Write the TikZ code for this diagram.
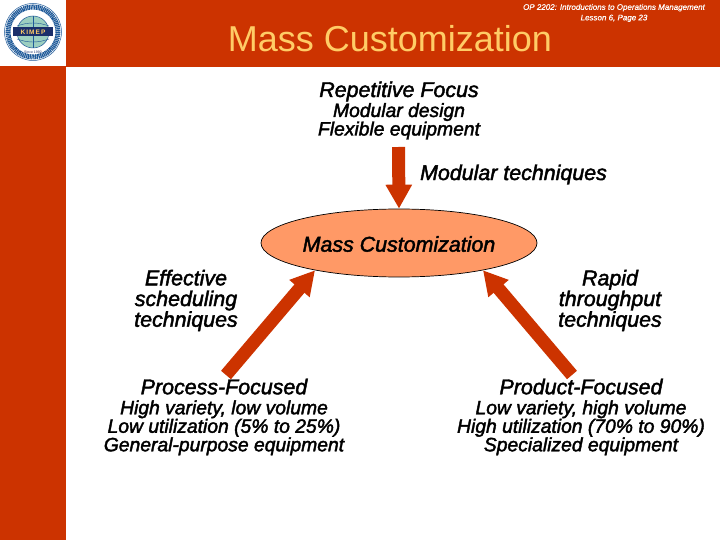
\documentclass[tikz,border=0pt]{standalone}
\usepackage{fontspec}
\setmainfont{Liberation Sans}
\newfontface\boldit{Liberation Sans Italic}[FakeBold=2]
\newfontface\lightit{Liberation Sans Italic}[FakeBold=0.6]
\newcommand{\headfont}{\boldit\fontsize{21.4}{20.7}\selectfont}
\usetikzlibrary{arrows.meta,shapes.geometric}
\definecolor{barred}{HTML}{CC3300}
\definecolor{titleyellow}{HTML}{FFCC66}
\definecolor{ellfill}{HTML}{FF9966}
\definecolor{logoblue}{HTML}{1F5A99}
\definecolor{logonavy}{HTML}{1A2F6B}
\definecolor{logoteal}{HTML}{9CCFC0}
\tikzset{
  big/.style={font=\headfont,text=black,inner sep=0pt,align=center},
  stack/.style={font=\boldit\fontsize{19.3}{18.5}\selectfont,text=black,inner sep=0pt,align=center},
  fatarrow/.style={draw=barred,line width=13pt,-{Triangle[length=24pt,width=25pt]},shorten >=0pt},
}
\begin{document}
\begin{tikzpicture}[x=1pt,y=-1pt]
\useasboundingbox (0,0) rectangle (720,540);
\fill[white] (0,0) rectangle (720,540);
\fill[barred] (0,0) rectangle (720,67);
\fill[barred] (0,0) rectangle (66,540);
% logo
\fill[white] (0,0) rectangle (66,66);
\draw[logoblue,line width=5pt,dash pattern=on 1.2pt off 0.6pt] (33,32) circle (25);
\draw[logoblue,line width=0.5pt] (33,32) circle (28.5);
\fill[logoteal] (33,32) circle (16);
\draw[logoblue,line width=0.5pt] (33,32) circle (16);
\draw[logoblue,line width=0.4pt] (17,26) .. controls (28,22) and (38,22) .. (49,26);
\draw[logoblue,line width=0.4pt] (17,39) .. controls (28,43) and (38,43) .. (49,39);
\draw[logoblue,line width=0.4pt] (33,16) -- (33,48);
\node[fill=logonavy,text=titleyellow,font=\bfseries\fontsize{6.5}{6.5}\selectfont,minimum width=40pt,minimum height=9pt,inner sep=0pt] (logo) at (33,32) {K\,I\,M\,E\,P};
\node[font=\fontsize{3.5}{3.5}\selectfont,text=logonavy,inner sep=0pt] (since) at (33,52) {Since 1992};
% header
\node[font=\fontsize{36}{36}\selectfont,text=titleyellow,inner sep=0pt] (title) at (390,38.5) {Mass Customization};
\node[font=\lightit\fontsize{8}{10.5}\selectfont,text=white,inner sep=0pt,align=center] (course) at (614,13) {OP 2202: Introductions to Operations Management\\Lesson 6, Page 23};
% ellipse
\node[ellipse,draw=black,line width=0.7pt,fill=ellfill,minimum width=276pt,minimum height=68pt,inner sep=0pt] (mc) at (399,243) {};
\node[big] (mclabel) at (399,244) {Mass Customization};
% top block
\node[stack] (rep) at (399,110.5) {{\headfont Repetitive Focus}\\[1.5pt]Modular design\\Flexible equipment};
\node[big] (modt) at (513.5,174.5) {Modular techniques};
% left and right labels
\node[big] (eff) at (186,300.5) {Effective\\scheduling\\techniques};
\node[big] (rap) at (610,300.5) {Rapid\\throughput\\techniques};
% process and product
\node[stack] (proc) at (224,417) {{\headfont Process-Focused}\\[1.5pt]High variety, low volume\\Low utilization (5\% to 25\%)\\General-purpose equipment};
\node[stack] (prod) at (581,417) {{\headfont Product-Focused}\\[1.5pt]Low variety, high volume\\High utilization (70\% to 90\%)\\Specialized equipment};
% arrows
\coordinate (topfrom) at (398.5,147);
\coordinate (leftfrom) at (226,375);
\coordinate (rightfrom) at (572,375);
\draw[fatarrow] (topfrom) -- (mc.north);
\draw[fatarrow] (leftfrom) -- (mc.198);
\draw[fatarrow] (rightfrom) -- (mc.342);
\end{tikzpicture}
\end{document}
